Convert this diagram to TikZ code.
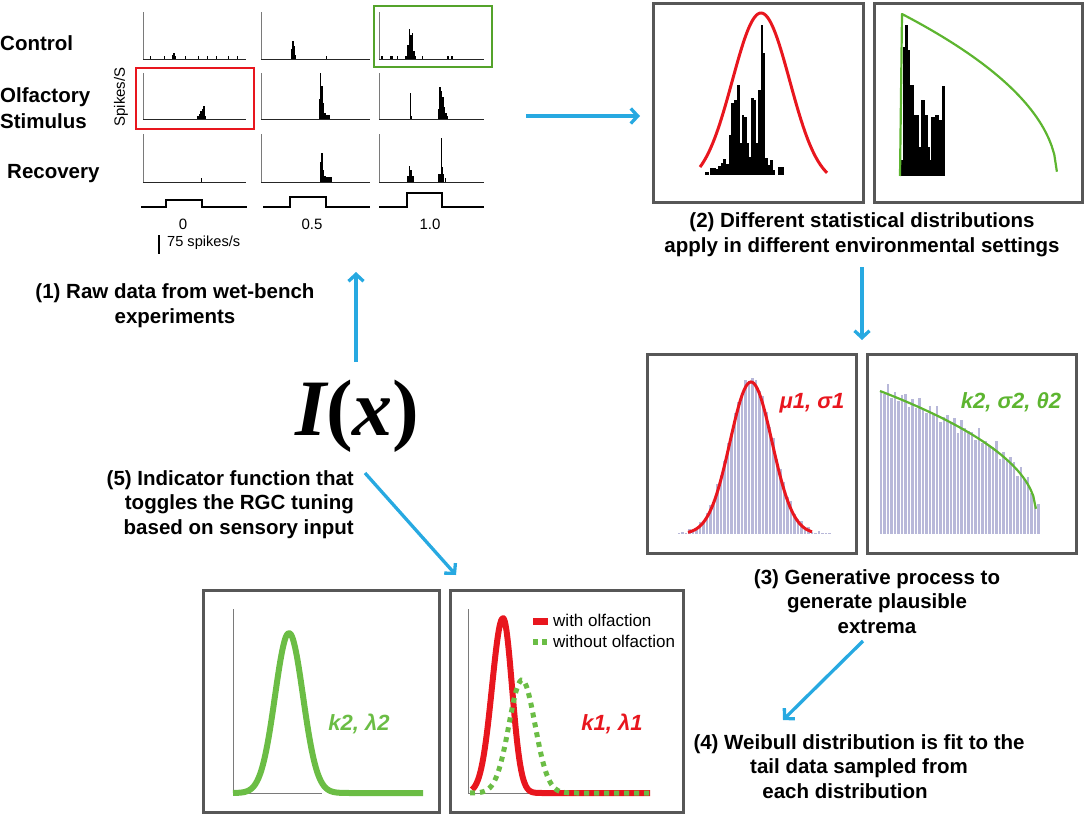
\documentclass[tikz,border=0pt]{standalone}
\usepackage{fontspec}
\setmainfont{Liberation Sans}
\newfontfamily\ixfont{Liberation Serif}
\usetikzlibrary{arrows.meta}
\definecolor{arrowblue}{HTML}{27A9E1}
\definecolor{boxgray}{HTML}{575757}
\definecolor{myred}{HTML}{E8161E}
\definecolor{mygreen}{HTML}{5DB530}
\definecolor{lgreen}{HTML}{6BBD45}
\definecolor{lav}{HTML}{B8B8D9}
\definecolor{axgray}{HTML}{7A7A7A}
\newcommand\spkbar[4]{\fill (#1,#2) rectangle ++(#4,-#3);}
\begin{document}
\begin{tikzpicture}[x=1pt,y=-1pt,
  arr/.style={draw=arrowblue, line width=3.3pt, -{Straight Barb[length=7pt,width=15pt]}},
  pbox/.style={draw=boxgray, line width=3pt, inner sep=0pt, outer sep=0pt, minimum width=#1},
  lbl/.style={font=\fontsize{20.5}{24.3}\selectfont\bfseries, inner sep=0pt},
  small/.style={font=\fontsize{15}{18}\selectfont, inner sep=0pt},
  param/.style={font=\fontsize{22}{26}\selectfont\bfseries\itshape, inner sep=0pt},
  axis/.style={draw=axgray, line width=0.9pt},
  trace/.style={draw=black, line width=1.5pt},
  lavbar/.style={fill=lav, draw=white, line width=0.25pt},
]
\useasboundingbox (0,0) rectangle (1084,819);

% ---------- (1) raster panel ----------
\node[lbl, anchor=base west] (ctrl) at (0,50) {Control};
\node[lbl, anchor=base west] (olf) at (0,102) {Olfactory};
\node[lbl, anchor=base west] (stim) at (0,128) {Stimulus};
\node[lbl, anchor=base west] (rec) at (7,178) {Recovery};
\node[small, rotate=90] (spk) at (121,97) {Spikes/S};

\foreach \xa/\xb in {143/246, 261/370, 379/484}{
  \foreach \ya/\yb in {12/59, 73/119, 134/182}{
    \draw[axis] (\xa,\ya) -- (\xa,\yb);
    \draw[black!85, line width=1pt] (\xa,\yb) -- (\xb,\yb);
  }
}
% row 1
\foreach \x in {150,164,185,198,207,216,228,237}{\spkbar{\x}{59}{3}{1.2}}
\spkbar{171.5}{59}{4}{1.5}\spkbar{173}{59}{6}{1.5}\spkbar{174.5}{59}{3}{1.5}
\spkbar{290.5}{59}{10}{1.5}\spkbar{292}{59}{18}{1.5}\spkbar{293.5}{59}{13}{1.5}\spkbar{295}{59}{4}{1}\spkbar{326}{59}{3}{1.2}
\spkbar{381}{59}{3}{1.5}\spkbar{390}{59}{3}{3}\spkbar{397}{59}{3}{1}\spkbar{404.5}{59}{3}{2}
\spkbar{407}{59}{14}{1.5}\spkbar{408.5}{59}{30}{1.5}\spkbar{410}{59}{24}{1.5}\spkbar{411.5}{59}{26}{1.5}\spkbar{413}{59}{8}{1.5}
\spkbar{415}{59}{3}{1}\spkbar{422}{59}{3}{1}\spkbar{447}{59}{3}{1.5}\spkbar{451}{59}{3}{1.5}
% row 2
\spkbar{196.5}{119}{3}{2}\spkbar{198.5}{119}{5}{1.5}\spkbar{200}{119}{8}{1.5}\spkbar{201.5}{119}{10}{1.5}\spkbar{203}{119}{13}{1.5}\spkbar{204.5}{119}{3}{1}
\spkbar{318.5}{119}{20}{1.5}\spkbar{319.5}{119}{46}{1.5}\spkbar{321}{119}{33}{1.5}\spkbar{322.5}{119}{16}{1.5}\spkbar{324}{119}{6}{1.5}\spkbar{326}{119}{4}{4}
\spkbar{409.5}{119}{26}{1.2}\spkbar{410.7}{119}{3}{1}
\spkbar{437.5}{119}{10}{1.5}\spkbar{439}{119}{32}{1.5}\spkbar{440.5}{119}{28}{1.5}\spkbar{442}{119}{22}{1.5}\spkbar{443.5}{119}{12}{1.5}\spkbar{445}{119}{6}{2}\spkbar{447}{119}{3}{1}
% row 3
\spkbar{201}{182}{4}{1.2}
\spkbar{319.5}{182}{20}{1.5}\spkbar{321}{182}{29}{1.5}\spkbar{322.5}{182}{12}{1.5}\spkbar{324}{182}{6}{1.5}\spkbar{326}{182}{5}{6}
\spkbar{406.5}{182}{6}{7}\spkbar{408.5}{182}{16}{1.5}\spkbar{410}{182}{12}{1.5}
\spkbar{438}{182}{8}{6}\spkbar{440.5}{182}{44}{1.2}\spkbar{442}{182}{15}{1.2}\spkbar{445}{182}{4}{1}
% stimulus traces
\draw[trace] (141,207) -- (166,207) -- (166,200) -- (202,200) -- (202,207) -- (247,207);
\draw[trace] (263,207) -- (290,207) -- (290,197) -- (326,197) -- (326,207) -- (370,207);
\draw[trace] (379,207) -- (407,207) -- (407,193) -- (442,193) -- (442,207) -- (484,207);
\node[small] (t0) at (183,224) {0};
\node[small] (t05) at (312,224) {0.5};
\node[small] (t10) at (430,224) {1.0};
\draw[black, line width=1.3pt] (159,235) -- (159,254);
\node[small, anchor=west, font=\fontsize{14.6}{17}\selectfont] (sc) at (167,243) {75 spikes/s};
% highlight boxes
\node[draw=myred, line width=2pt, minimum width=118pt, minimum height=61pt, inner sep=0pt] (redbox) at (195,98.5) {};
\node[draw=mygreen!90!black, line width=2pt, minimum width=118pt, minimum height=61pt, inner sep=0pt] (greenbox) at (433,36.5) {};

\node[lbl, align=center, anchor=base] (cap1) at (175,323) {(1) Raw data from wet-bench\\experiments};

% ---------- (2) ----------
\node[pbox=210pt, minimum height=199pt] (boxA) at (758,102.5) {};
\node[pbox=208pt, minimum height=199pt] (boxB) at (978,102.5) {};
\foreach \a/\b/\t in {345/355/515, 360/376/503, 376/384/508, 384/392/497, 392/400/490, 400/408/478, 408/416/492, 416/424/405, 424/432/310, 432/440/300, 440/448/255, 448/455/430, 455/462/345, 462/469/350, 469/476/430, 476/483/470, 483/490/295, 490/498/300, 498/505/430, 505/512/270, 512/519/75, 519/525/160, 525/532/475, 532/540/495, 540/548/480, 548/555/510, 565/580/500}
  {\fill (590+\a/3,175) rectangle (590+\b/3+0.3,\t/3);}
\draw[myred, line width=3pt] plot[domain=700:827, samples=80, smooth] (\x, {185-172*exp(-0.5*((\x-761)/28.7)^2)});
\foreach \a/\b/\t in {930/940/480, 940/945/140, 945/952/75, 952/958/150, 958/972/255, 972/986/345, 986/993/440, 993/1003/300, 1003/1013/345, 1013/1018/440, 1018/1023/480, 1023/1035/350, 1035/1047/345, 1047/1055/360, 1055/1063/258}
  {\fill (590+\a/3,176) rectangle (590+\b/3+0.3,\t/3);}
\draw[mygreen, line width=2.2pt, line join=round] (900,176) -- (902,14) -- plot[domain=0:1, samples=60] ({902+155*\x}, {14+162*(1-sqrt(max(0,1-\x)))});
\node[lbl, align=center, anchor=base] (cap2) at (862,252) {(2) Different statistical distributions\\apply in different environmental settings};

% ---------- (3) ----------
\node[pbox=209pt, minimum height=199pt] (boxC) at (751.5,453.5) {};
\node[pbox=209pt, minimum height=199pt] (boxD) at (971.5,453.5) {};
\foreach \i in {0,...,43}{
  \pgfmathsetmacro\xx{677+3.5*\i}
  \pgfmathsetmacro\hh{max(1.5,157*exp(-0.5*((\xx+1.75-751)/22)^2)+3*sin(\i*137.5))}
  \filldraw[lavbar] (\xx,534) rectangle ++(3.5,-\hh);
}
\draw[myred, line width=3pt] plot[domain=688:812, samples=80, smooth] (\x, {534-152*exp(-0.5*((\x-751)/21)^2)});
\node[param, text=myred, anchor=base] (p1) at (812,408) {μ1, σ1};
\foreach \i in {0,...,45}{
  \pgfmathsetmacro\xx{879+3.5*\i}
  \pgfmathsetmacro\tt{min(1,(\xx+1.75-880)/156)}
  \pgfmathsetmacro\top{391+121*(1-sqrt(max(0,1-\tt)))+6*sin(\i*151)+3*cos(\i*83)-3}
  \pgfmathsetmacro\hh{max(8,534-\top)}
  \filldraw[lavbar] (\xx,534) rectangle ++(3.5,-\hh);
}
\draw[mygreen, line width=2.2pt] plot[domain=0:1, samples=60] ({880+156*\x}, {391+121*(1-sqrt(max(0,1-\x)))});
\node[param, text=mygreen, anchor=base] (p2) at (1011,408) {k2, σ2, θ2};
\node[lbl, align=center, anchor=base] (cap3) at (877,633) {(3) Generative process to\\generate plausible\\extrema};

% ---------- (4) ----------
\node[lbl, align=center, anchor=base] (cap4) at (859,798) {(4) Weibull distribution is fit to the\\tail data sampled from\hspace*{28pt}\\each distribution\hspace*{28pt}};

% ---------- (5) ----------
\node[anchor=base west, inner sep=0pt] (ix) at (295,435) {\fontsize{80}{80}\selectfont\ixfont\bfseries\itshape I\upshape(\itshape x\upshape)};
\node[lbl, align=right, anchor=base east] (cap5) at (354,534) {(5) Indicator function that\\toggles the RGC tuning\\based on sensory input};

\node[pbox=236pt, minimum height=222pt] (boxE) at (321,701) {};
\node[pbox=233pt, minimum height=222pt] (boxF) at (566.5,701) {};
\draw[axis] (233,609) -- (233,793) -- (322,793);
\draw[lgreen, line width=6pt, line join=round] plot[domain=233:423, samples=120, smooth] (\x, {793-160*exp(-0.5*min(30,((\x-289)/14)^2))});
\node[param, text=lgreen, anchor=base] (p3) at (359,730) {k2, λ2};
\draw[axis] (468,609) -- (468,793) -- (530,793);
\draw[myred, line width=6pt, line join=round] plot[domain=472:650, samples=120, smooth] (\x, {793-175*exp(-0.5*min(30,((\x-503)/(\x<503?11:9))^2))});
\draw[lgreen, line width=5pt, dash pattern=on 5pt off 5pt] plot[domain=470:650, samples=120, smooth] (\x, {793-113*exp(-0.5*min(30,((\x-522)/13)^2))});
\draw[myred, line width=7pt] (533,621) -- (548,621);
\draw[lgreen, line width=5.5pt, dash pattern=on 5pt off 4pt] (533,642) -- (549,642);
\node[anchor=base west, inner sep=0pt, font=\fontsize{17}{20}\selectfont] (lg1) at (553,626) {with olfaction};
\node[anchor=base west, inner sep=0pt, font=\fontsize{17}{20}\selectfont] (lg2) at (553,647) {without olfaction};
\node[param, text=myred, anchor=base] (p4) at (612,730) {k1, λ1};

% ---------- arrows ----------
\coordinate (a1s) at (526,116); \coordinate (a1e) at (640,116);
\coordinate (a2s) at (862,267); \coordinate (a2e) at (862,340);
\coordinate (a3s) at (356,362); \coordinate (a3e) at (356,272);
\coordinate (a4s) at (365,473); \coordinate (a4e) at (456,575);
\coordinate (a5s) at (863,641); \coordinate (a5e) at (783,720);
\draw[arr] (a1s) -- (a1e);
\draw[arr] (a2s) -- (a2e);
\draw[arr] (a3s) -- (a3e);
\draw[arr] (a4s) -- (a4e);
\draw[arr] (a5s) -- (a5e);
\end{tikzpicture}
\end{document}
